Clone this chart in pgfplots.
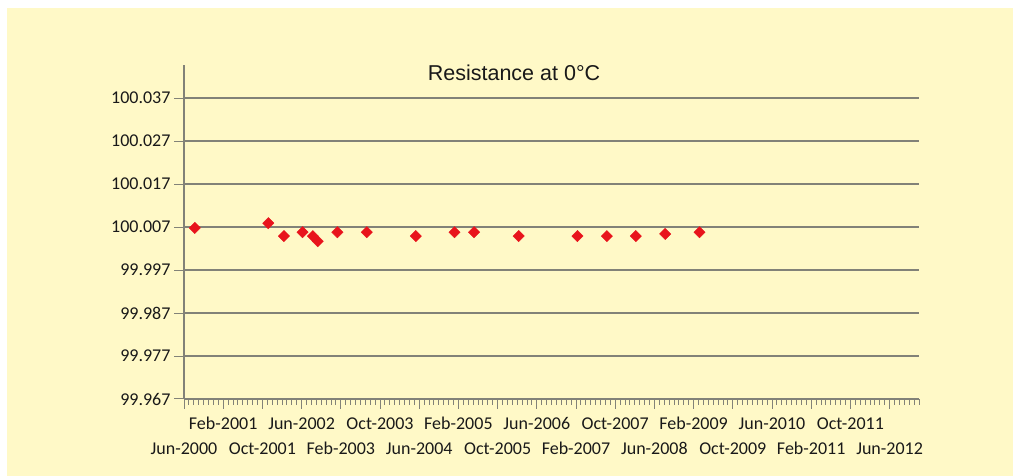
\documentclass[border=0pt]{standalone}
\usepackage{fontspec}
\setmainfont{Carlito}
\newfontfamily\titlefont{Liberation Sans}
\usepackage{pgfplots}
\pgfplotsset{compat=1.18}
\definecolor{bg}{RGB}{255,249,199}
\definecolor{gridc}{RGB}{130,130,120}
\definecolor{txt}{RGB}{25,25,25}
\definecolor{mkred}{RGB}{232,20,28}
\begin{document}
\begin{tikzpicture}[x=1pt,y=1pt]
\fill[white] (0,0) rectangle (1013,476);
\fill[bg] (7,0) rectangle (1013,468);
\node[font=\titlefont\fontsize{21.5}{24}\selectfont, text=txt] at (514,403) {Resistance at 0\textdegree C};
\begin{axis}[
  at={(184pt,77pt)}, anchor=south west, scale only axis,
  width=735pt, height=334pt,
  xmin=0, xmax=150, ymin=99.967, ymax=100.0447,
  axis x line=bottom, axis y line=left,
  axis line style={-, draw=gridc, line width=1.3pt},
  tick align=outside,
  major tick length=10pt, minor tick length=6pt,
  every tick/.style={draw=gridc, line width=1pt},
  xtick={0,16,32,48,64,80,96,112,128,144},
  xticklabels={Jun-2000,Oct-2001,Feb-2003,Jun-2004,Oct-2005,Feb-2007,Jun-2008,Oct-2009,Feb-2011,Jun-2012},
  extra x ticks={8,24,40,56,72,88,104,120,136},
  extra x tick labels={Feb-2001,Jun-2002,Oct-2003,Feb-2005,Jun-2006,Oct-2007,Feb-2009,Jun-2010,Oct-2011},
  extra x tick style={xticklabel style={yshift=25pt}},
  minor xtick={1,...,150},
  xticklabel style={font=\fontsize{18}{20}\selectfont, text=txt, yshift=-30pt},
  ytick={99.967,99.977,99.987,99.997,100.007,100.017,100.027,100.037},
  yticklabels={99.967,99.977,99.987,99.997,100.007,100.017,100.027,100.037},
  yticklabel style={font=\fontsize{18}{20}\selectfont, text=txt},
  ymajorgrids, xmajorgrids=false,
  grid style={draw=gridc, line width=1.4pt},
  clip=false,
]
\addplot[only marks, mark=square*, mark size=4pt, mark options={rotate=45, fill=mkred, draw=mkred}]
coordinates {
(2.2,100.0068) (17.2,100.0079) (20.4,100.0049) (24.2,100.0058) (26.3,100.0049)
(27.3,100.0037) (31.3,100.0058) (37.3,100.0058) (47.3,100.0049) (55.2,100.0058)
(59.2,100.0058) (68.3,100.0049) (80.3,100.0049) (86.3,100.0049) (92.2,100.0049)
(98.2,100.0054) (105.2,100.0058)
};
\end{axis}
\end{tikzpicture}
\end{document}
